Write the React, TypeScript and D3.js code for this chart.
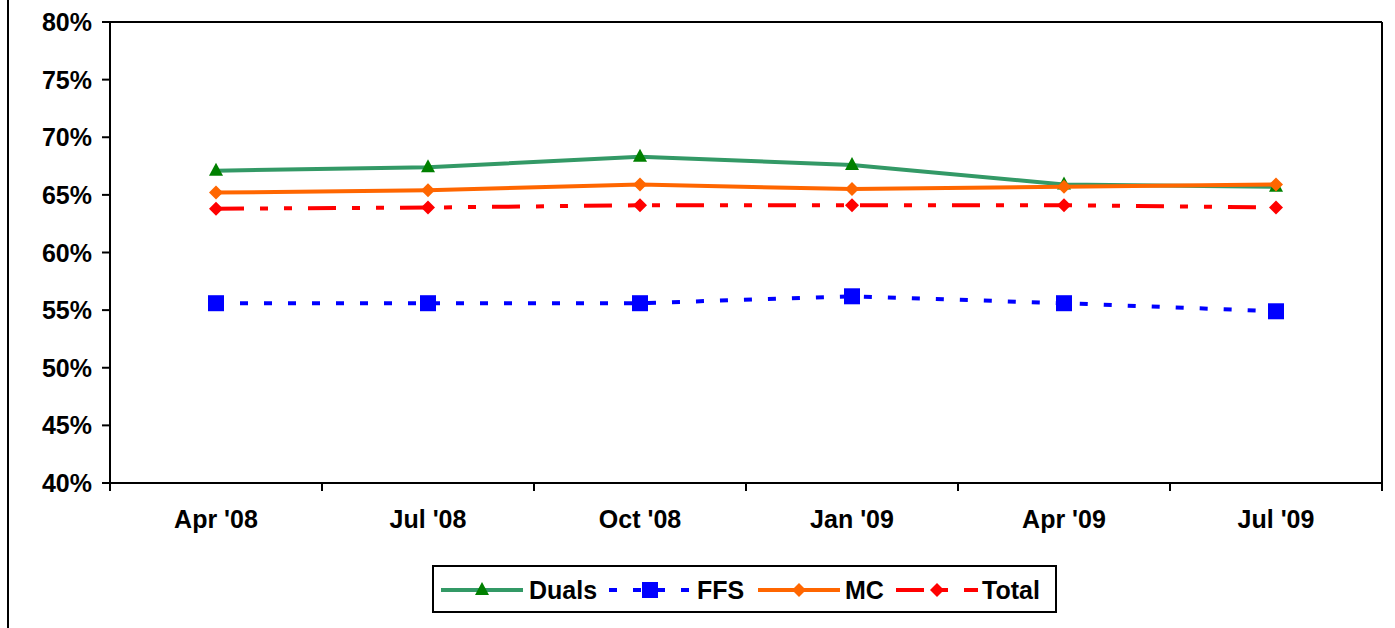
import React from 'react';
import * as d3 from 'd3';

const categories = ["Apr '08", "Jul '08", "Oct '08", "Jan '09", "Apr '09", "Jul '09"];
const duals = [67.1, 67.4, 68.3, 67.6, 65.9, 65.7];
const ffs = [55.6, 55.6, 55.6, 56.2, 55.6, 54.9];
const mc = [65.2, 65.4, 65.9, 65.5, 65.7, 65.9];
const total = [63.8, 63.9, 64.1, 64.1, 64.1, 63.9];
const yTicks = [40, 45, 50, 55, 60, 65, 70, 75, 80];

const W = 1395;
const H = 628;
const left = 110, right = 1382, top = 22, bottom = 483;
const font = 'Liberation Sans, Arial, sans-serif';
const fs = 25;

type Series = {
  name: string;
  values: number[];
  line: string;
  marker: string;
  dash?: string;
  legendDash?: string;
  shape: 'triangle' | 'square' | 'diamond';
};

const series: Series[] = [
  { name: 'Duals', values: duals, line: '#339966', marker: '#008000', shape: 'triangle' },
  { name: 'FFS', values: ffs, line: '#0000FF', marker: '#0000FF', dash: '8,16', legendDash: '8,16', shape: 'square' },
  { name: 'MC', values: mc, line: '#FF6600', marker: '#FF6600', shape: 'diamond' },
  { name: 'Total', values: total, line: '#FF0000', marker: '#FF0000', dash: '28,16,8,16,8,16', legendDash: '28,16,8,16', shape: 'diamond' },
];

const Marker: React.FC<{ shape: Series['shape']; x: number; y: number; color: string }> = ({ shape, x, y, color }) => {
  if (shape === 'triangle') {
    return <path d={`M${x},${y - 8}L${x + 7},${y + 5}L${x - 7},${y + 5}Z`} fill={color} />;
  }
  if (shape === 'square') {
    return <rect x={x - 8} y={y - 8} width={16} height={16} fill={color} />;
  }
  return <path d={`M${x},${y - 7}L${x + 7},${y}L${x},${y + 7}L${x - 7},${y}Z`} fill={color} />;
};

const App: React.FC = () => {
  const x = d3.scaleBand<string>().domain(categories).range([left, right]).padding(0);
  const y = d3.scaleLinear().domain([40, 80]).range([bottom, top]);
  const cx = (c: string) => (x(c) ?? 0) + x.bandwidth() / 2;

  const line = d3.line<number>()
    .x((_, i) => cx(categories[i]))
    .y(d => y(d));

  const tickXs = categories.map(c => x(c) ?? 0).concat([right]);

  // legend slots: line start and text start
  const legendItems = [
    { s: series[0], lx: 441, tx: 529 },
    { s: series[1], lx: 609, tx: 697 },
    { s: series[2], lx: 758, tx: 845 },
    { s: series[3], lx: 896, tx: 982 },
  ];
  const ly = 590;

  return (
    <div style={{ position: 'absolute', left: 0, top: 0 }}>
      <svg width={W} height={H} style={{ display: 'block', background: '#fff' }}>
        <line x1={8} x2={8} y1={0} y2={H} stroke="#000" strokeWidth={2} />

        {/* plot frame */}
        <line x1={left} x2={right} y1={top} y2={top} stroke="#000" strokeWidth={2} />
        <line x1={right} x2={right} y1={top} y2={bottom + 8} stroke="#000" strokeWidth={2} />

        {/* y axis */}
        <line x1={left} x2={left} y1={top} y2={bottom + 8} stroke="#000" strokeWidth={2} />
        {yTicks.map(t => (
          <g key={t}>
            <line x1={left - 8} x2={left} y1={y(t)} y2={y(t)} stroke="#000" strokeWidth={2} />
            <text x={92} y={y(t)} dy="0.36em" textAnchor="end" fontFamily={font} fontWeight="bold" fontSize={fs} fill="#000">
              {t}%
            </text>
          </g>
        ))}

        {/* x axis */}
        <line x1={left} x2={right} y1={bottom} y2={bottom} stroke="#000" strokeWidth={2} />
        {tickXs.map((tx, i) => (
          <line key={i} x1={tx} x2={tx} y1={bottom} y2={bottom + 8} stroke="#000" strokeWidth={2} />
        ))}
        {categories.map(c => (
          <text key={c} x={cx(c)} y={528} textAnchor="middle" fontFamily={font} fontWeight="bold" fontSize={fs} fill="#000">
            {c}
          </text>
        ))}

        {/* series */}
        {series.map(s => (
          <g key={s.name}>
            <path d={line(s.values) || ''} fill="none" stroke={s.line} strokeWidth={4} strokeDasharray={s.dash} />
            {s.values.map((v, i) => (
              <Marker key={i} shape={s.shape} x={cx(categories[i])} y={y(v)} color={s.marker} />
            ))}
          </g>
        ))}

        {/* legend */}
        <rect x={433} y={566} width={623} height={46} fill="#fff" stroke="#000" strokeWidth={2} />
        {legendItems.map(({ s, lx, tx }) => (
          <g key={s.name}>
            <line x1={lx} x2={lx + 82} y1={ly} y2={ly} stroke={s.line} strokeWidth={4} strokeDasharray={s.legendDash} />
            <Marker shape={s.shape} x={lx + 41} y={ly} color={s.marker} />
            <text x={tx} y={ly} dy="0.36em" fontFamily={font} fontWeight="bold" fontSize={fs} fill="#000">
              {s.name}
            </text>
          </g>
        ))}
      </svg>
    </div>
  );
};

export default App;
